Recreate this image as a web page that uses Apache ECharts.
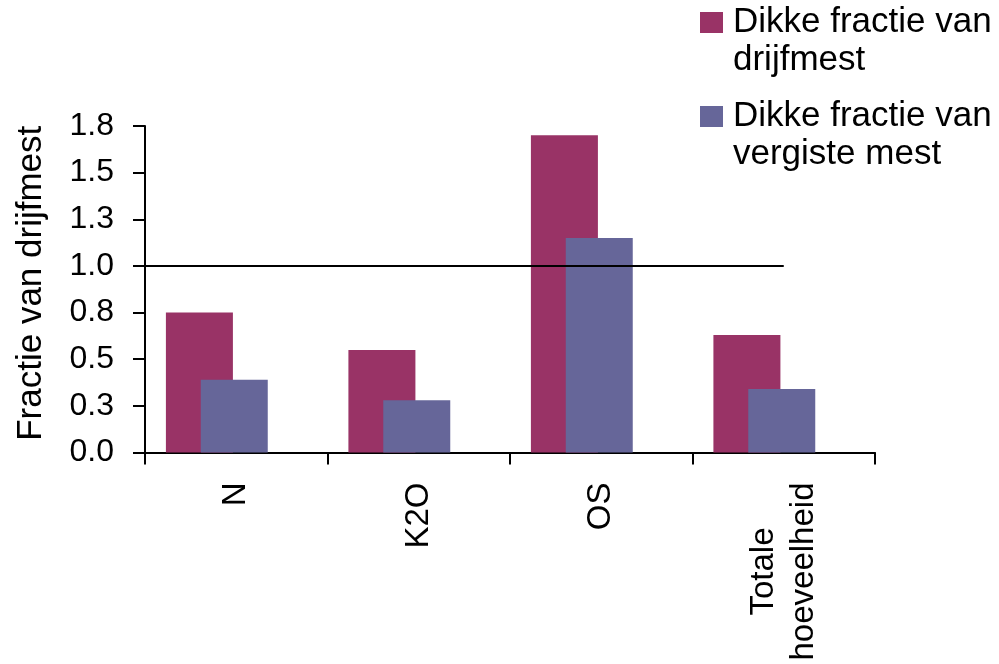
<!DOCTYPE html>
<html>
<head>
<meta charset="utf-8">
<script src="https://cdn.jsdelivr.net/npm/echarts@6/dist/echarts.min.js"></script>
<style>
  html, body { margin: 0; padding: 0; background: #ffffff; }
  #chart { width: 999px; height: 664px; }
</style>
</head>
<body>
<div id="chart"></div>
<script>
// Categories on the horizontal axis
var categories = ['N', 'K2O', 'OS', 'Totale\nhoeveelheid'];

// Series names
var seriesNames = ['Dikke fractie van\ndrijfmest', 'Dikke fractie van\nvergiste mest'];

// Fraction relative to raw slurry
var drijfmest = [0.75, 0.55, 1.70, 0.63];
var vergisteMest = [0.39, 0.28, 1.15, 0.34];

// Reference level 1.0, running from the left axis edge to the last category
var refLine = [[-0.5, 1.0], [3, 1.0]];

// Y axis ticks and their printed labels
var yTicks = [0, 0.25, 0.5, 0.75, 1.0, 1.25, 1.5, 1.75];
var yTickLabels = ['0.0', '0.3', '0.5', '0.8', '1.0', '1.3', '1.5', '1.8'];

var FONT = '"Liberation Sans", Arial, sans-serif';

var chart = echarts.init(document.getElementById('chart'), null, { renderer: 'canvas' });

var option = {
  animation: false,
  backgroundColor: '#ffffff',
  textStyle: { fontFamily: FONT, color: '#000000' },
  grid: { left: 145, right: 124, top: 126, bottom: 211.5, containLabel: false },
  legend: {
    orient: 'vertical',
    left: 700,
    top: -34.5,
    padding: 0,
    itemGap: -20,
    itemWidth: 23,
    itemHeight: 21,
    icon: 'rect',
    data: seriesNames,
    // leading blank line keeps the swatch level with the first text line
    formatter: function (name) {
      return '\n' + name.split('\n').map(function (s) { return '{t|' + s + '}'; }).join('\n');
    },
    textStyle: {
      fontFamily: FONT,
      fontSize: 35,
      lineHeight: 38,
      color: '#000000',
      rich: {
        t: { fontFamily: FONT, fontSize: 35, lineHeight: 38, color: '#000000', padding: [0, 0, 0, 5] }
      }
    }
  },
  xAxis: [
    {
      type: 'category',
      data: categories,
      boundaryGap: true,
      axisLine: { onZero: false, lineStyle: { color: '#000000', width: 2 } },
      axisTick: { show: true, inside: false, length: 12, lineStyle: { color: '#000000', width: 2 } },
      axisLabel: {
        rotate: 90,
        margin: 30,
        color: '#000000',
        fontFamily: FONT,
        fontSize: 33,
        formatter: function (v) {
          return v.split('\n').map(function (s) { return '{c|' + s + '}'; }).join('\n');
        },
        rich: {
          c: { align: 'center', fontFamily: FONT, fontSize: 33, lineHeight: 40, color: '#000000' }
        }
      },
      splitLine: { show: false }
    },
    {
      type: 'value',
      min: -0.5,
      max: 3.5,
      show: false
    }
  ],
  yAxis: {
    type: 'value',
    min: 0,
    max: 1.75,
    interval: 0.25,
    name: 'Fractie van drijfmest',
    nameLocation: 'middle',
    nameRotate: 90,
    nameGap: 96,
    nameTextStyle: { fontFamily: FONT, fontSize: 35, color: '#000000', padding: [0, 0, 0, 12] },
    axisLine: { show: true, onZero: false, lineStyle: { color: '#000000', width: 2 } },
    axisTick: { show: true, inside: false, length: 12, lineStyle: { color: '#000000', width: 2 } },
    axisLabel: {
      margin: 31,
      color: '#000000',
      fontFamily: FONT,
      fontSize: 32,
      formatter: function (v) {
        var i = yTicks.findIndex(function (t) { return Math.abs(t - v) < 1e-9; });
        return i >= 0 ? yTickLabels[i] : '';
      }
    },
    splitLine: { show: false }
  },
  series: [
    {
      name: seriesNames[0],
      type: 'bar',
      data: drijfmest,
      barWidth: 67,
      barGap: '-48%',
      itemStyle: { color: '#993366' }
    },
    {
      name: seriesNames[1],
      type: 'bar',
      data: vergisteMest,
      barWidth: 67,
      barGap: '-48%',
      itemStyle: { color: '#666699' }
    },
    {
      // empty slot that keeps the bar pair in its place within each category
      name: 'slot',
      type: 'bar',
      data: [],
      barWidth: 71,
      barGap: '-48%',
      silent: true
    },
    {
      name: 'ref',
      type: 'line',
      xAxisIndex: 1,
      data: refLine,
      symbol: 'none',
      silent: true,
      lineStyle: { color: '#000000', width: 2 },
      z: 5
    }
  ]
};

chart.setOption(option);
</script>
</body>
</html>
